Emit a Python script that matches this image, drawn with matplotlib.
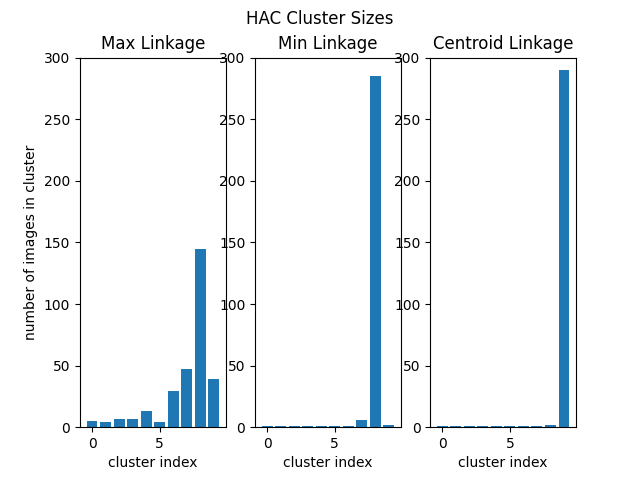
import matplotlib
matplotlib.use("Agg")
import matplotlib.pyplot as plt

clusters = list(range(10))
max_sizes = [5, 4, 7, 7, 13, 4, 29, 47, 145, 39]
min_sizes = [1, 1, 1, 1, 1, 1, 1, 6, 285, 2]
centroid_sizes = [1, 1, 1, 1, 1, 1, 1, 1, 2, 290]
titles = ["Max Linkage", "Min Linkage", "Centroid Linkage"]

fig, axes = plt.subplots(1, 3, figsize=(6.4, 4.8), dpi=100)
for ax, sizes, t in zip(axes, [max_sizes, min_sizes, centroid_sizes], titles):
    ax.bar(clusters, sizes)
    ax.set_title(t)
    ax.set_xlabel("cluster index")
    ax.set_ylim(0, 300)
axes[0].set_ylabel("number of images in cluster")
fig.suptitle("HAC Cluster Sizes")
fig.savefig("out.png")
